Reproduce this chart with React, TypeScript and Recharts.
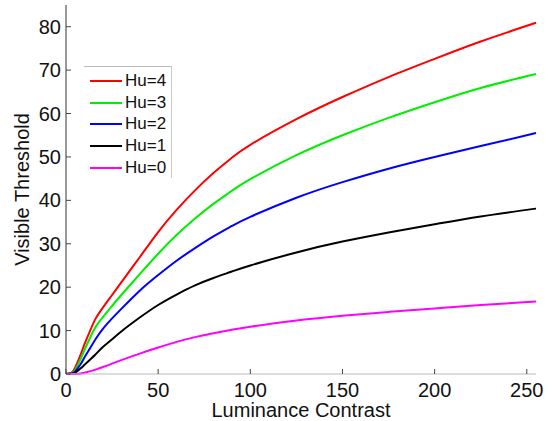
import { LineChart, Line, XAxis, YAxis, Label } from "recharts"

const contrast = [0, 3, 5, 8, 10, 13, 16, 20, 25, 30, 40, 50, 60, 70, 80, 90, 100, 125, 150, 175, 200, 225, 255]
const hu4 = [0, 0.3, 1.5, 4.5, 6.8, 9.9, 12.7, 15.3, 18.2, 21.1, 26.9, 32.7, 37.8, 42.3, 46.3, 49.8, 52.8, 58.7, 63.8, 68.4, 72.6, 76.6, 80.9]
const hu3 = [0, 0.2, 1, 3.5, 5.5, 8.3, 10.8, 13.1, 15.7, 18.2, 23.0, 27.7, 32.0, 35.8, 39.2, 42.2, 44.9, 50.4, 55.0, 59.0, 62.6, 65.9, 69.1]
const hu2 = [0, 0.1, 0.6, 2.3, 3.8, 5.9, 8.0, 10.4, 12.8, 15.0, 19.2, 22.8, 26.1, 29.0, 31.7, 34.1, 36.2, 40.6, 44.2, 47.3, 50.0, 52.5, 55.5]
const hu1 = [0, 0, 0.3, 1.3, 2.1, 3.3, 4.5, 6.2, 8.0, 9.8, 13.0, 15.9, 18.3, 20.4, 22.1, 23.6, 25.0, 28.0, 30.5, 32.6, 34.5, 36.3, 38.1]
const hu0 = [0, 0, 0, 0.1, 0.3, 0.6, 1.0, 1.6, 2.4, 3.2, 4.7, 6.1, 7.4, 8.5, 9.4, 10.2, 10.9, 12.3, 13.4, 14.3, 15.1, 15.9, 16.7]

const xTicks = [0, 50, 100, 150, 200, 250]
const yTicks = [0, 10, 20, 30, 40, 50, 60, 70, 80]

const series = [
  { key: "hu4", name: "Hu=4", color: "#ff0000", values: hu4 },
  { key: "hu3", name: "Hu=3", color: "#00ee00", values: hu3 },
  { key: "hu2", name: "Hu=2", color: "#0000ff", values: hu2 },
  { key: "hu1", name: "Hu=1", color: "#000000", values: hu1 },
  { key: "hu0", name: "Hu=0", color: "#ff00ff", values: hu0 },
]

const data = contrast.map((c, i) => {
  const row: Record<string, number> = { contrast: c }
  series.forEach((s) => {
    row[s.key] = s.values[i]
  })
  return row
})

const font = "'Liberation Sans', Arial, sans-serif"

const BottomTick = (props: any) => {
  const { x, y, payload } = props
  return (
    <g>
      <line x1={x} x2={x} y1={y} y2={y - 5} stroke="#444" />
      <text x={x} y={y + 23} textAnchor="middle" fontSize={20} fontFamily={font} fill="#111">
        {payload.value}
      </text>
    </g>
  )
}

const LeftTick = (props: any) => {
  const { x, y, payload } = props
  return (
    <g>
      <line x1={x} x2={x + 5} y1={y} y2={y} stroke="#444" />
      <text x={x - 5} y={y + 7} textAnchor="end" fontSize={20} fontFamily={font} fill="#111">
        {payload.value}
      </text>
    </g>
  )
}

const TopTick = (props: any) => {
  const { x, y } = props
  return <line x1={x} x2={x} y1={y} y2={y + 5} stroke="#444" />
}

const RightTick = (props: any) => {
  const { x, y } = props
  return <line x1={x} x2={x - 5} y1={y} y2={y} stroke="#999" />
}

export default function App() {
  return (
    <div style={{ position: "absolute", left: 0, top: 0, width: 553, height: 421, background: "#fff" }}>
      <LineChart width={553} height={421} data={data} margin={{ top: 5, right: 17, bottom: 0, left: 0 }}>
        <XAxis
          dataKey="contrast"
          type="number"
          domain={[0, 255]}
          ticks={xTicks}
          height={47}
          tickSize={0}
          tickMargin={0}
          tick={<BottomTick />}
          axisLine={{ stroke: "#bbb" }}
          tickLine={false}
        >
          <Label value="Luminance Contrast" position="insideBottom" offset={4} fontSize={20} fontFamily={font} fill="#111" />
        </XAxis>
        <XAxis
          xAxisId="top"
          orientation="top"
          type="number"
          domain={[0, 255]}
          ticks={xTicks}
          height={0}
          tickSize={0}
          tickMargin={0}
          tick={<TopTick />}
          axisLine={{ stroke: "#aaa" }}
          tickLine={false}
        />
        <YAxis
          type="number"
          domain={[0, 85]}
          ticks={yTicks}
          width={66}
          tickSize={0}
          tickMargin={0}
          tick={<LeftTick />}
          axisLine={{ stroke: "#333" }}
          tickLine={false}
        >
          <Label
            value="Visible Threshold"
            angle={-90}
            position="insideLeft"
            offset={22}
            style={{ textAnchor: "middle" }}
            fontSize={20}
            fontFamily={font}
            fill="#111"
          />
        </YAxis>
        <YAxis
          yAxisId="right"
          orientation="right"
          type="number"
          domain={[0, 85]}
          ticks={yTicks}
          width={0}
          tickSize={0}
          tickMargin={0}
          tick={<RightTick />}
          axisLine={{ stroke: "#ccc" }}
          tickLine={false}
        />
        {series.map((s) => (
          <Line
            key={s.key}
            type="natural"
            dataKey={s.key}
            name={s.name}
            stroke={s.color}
            strokeWidth={2}
            dot={false}
            isAnimationActive={false}
          />
        ))}
      </LineChart>
      <div
        style={{
          position: "absolute",
          left: 84,
          top: 66,
          width: 88,
          height: 112,
          boxSizing: "border-box",
          borderTop: "1px solid #bbb",
          borderRight: "1px solid #ccc",
          background: "#fff",
          paddingTop: 3,
          fontFamily: font,
          fontSize: 17,
          color: "#111",
        }}
      >
        {series.map((s) => (
          <div key={s.key} style={{ display: "flex", alignItems: "center", height: 21.7 }}>
            <div style={{ width: 32, height: 2, background: s.color, marginLeft: 6, marginRight: 3 }} />
            <span>{s.name}</span>
          </div>
        ))}
      </div>
    </div>
  )
}
